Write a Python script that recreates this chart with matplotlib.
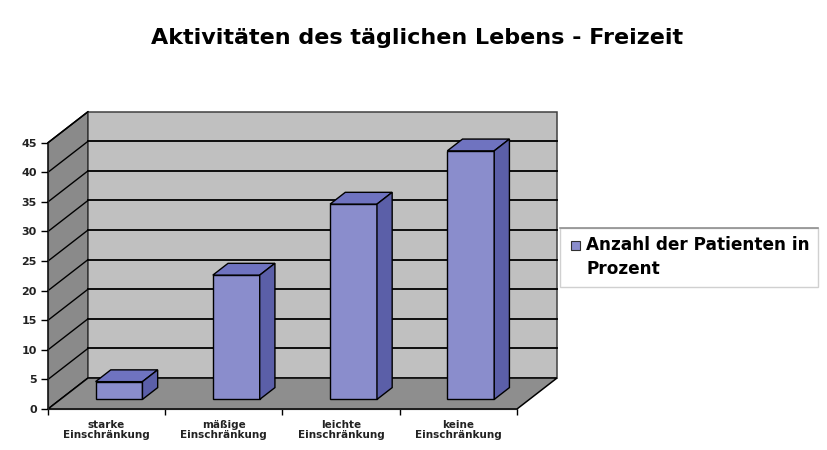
import numpy as np
import matplotlib.pyplot as plt
from matplotlib.patches import Polygon, Rectangle

# data
categories = ['starke\nEinschränkung', 'mäßige\nEinschränkung',
              'leichte\nEinschränkung', 'keine\nEinschränkung']
values = [3, 21, 33, 42]
series_name = 'Anzahl der Patienten in\nProzent'
title = 'Aktivitäten des täglichen Lebens - Freizeit'
yticks = np.arange(0, 50, 5)

W, H = 828, 450
fig = plt.figure(figsize=(W / 100, H / 100), dpi=100)
fig.patch.set_facecolor('white')

# front plane of the 3d box, in pixels
x0, x1 = 48, 517
yb, yt = 409, 142.7
ax = fig.add_axes([x0 / W, (H - yb) / H, (x1 - x0) / W, (yb - yt) / H])
ax.set_xlim(-0.5, 3.5)
ax.set_ylim(0, 45)

# depth offset (40px right, 31px up) in data units
sx = (x1 - x0) / 4.0
sy = (yb - yt) / 45.0
dx = 40 / sx
dy = 31 / sy

wall = '#c0c0c0'
side = '#8a8a8a'
floor = '#8e8e8e'
lw = 1.1

# walls and floor
ax.add_patch(Polygon([(-0.5, 0), (-0.5, 45), (-0.5 + dx, 45 + dy), (-0.5 + dx, dy)],
                     closed=True, fc=side, ec='black', lw=lw, clip_on=False, zorder=1))
ax.add_patch(Polygon([(-0.5 + dx, dy), (-0.5 + dx, 45 + dy), (3.5 + dx, 45 + dy), (3.5 + dx, dy)],
                     closed=True, fc=wall, ec='#404040', lw=lw, clip_on=False, zorder=1))
ax.add_patch(Polygon([(-0.5, 0), (3.5, 0), (3.5 + dx, dy), (-0.5 + dx, dy)],
                     closed=True, fc=floor, ec='black', lw=lw, clip_on=False, zorder=1))

# gridlines on back wall and side wall
for v in yticks[1:]:
    if v < 45:
        ax.plot([-0.5 + dx, 3.5 + dx], [v + dy, v + dy], color='black', lw=1.3,
                clip_on=False, zorder=2)
    ax.plot([-0.5, -0.5 + dx], [v, v + dy], color='black', lw=1.0, clip_on=False, zorder=2)

# bars: front faces with ax.bar, top and side as polygons
f0, fd = 0.31, 0.38
w = 0.4
xs = np.arange(len(values)) + f0 * dx
base = f0 * dy
c_front = '#8a8dcc'
c_top = '#6f73c0'
c_side = '#5b5fa8'
ax.bar(xs, values, width=w, bottom=base, color=c_front, edgecolor='black', lw=1.0,
       zorder=4, clip_on=False)
for x, v in zip(xs, values):
    l, r = x - w / 2, x + w / 2
    t = base + v
    ax.add_patch(Polygon([(l, t), (r, t), (r + fd * dx, t + fd * dy), (l + fd * dx, t + fd * dy)],
                         closed=True, fc=c_top, ec='black', lw=1.0, clip_on=False, zorder=4))
    ax.add_patch(Polygon([(r, base), (r, t), (r + fd * dx, t + fd * dy), (r + fd * dx, base + fd * dy)],
                         closed=True, fc=c_side, ec='black', lw=1.0, clip_on=False, zorder=4))

# axes
ax.set_facecolor('none')
for s in ['top', 'right']:
    ax.spines[s].set_visible(False)
ax.spines['left'].set_color('#202020')
ax.spines['bottom'].set_color('#202020')
ax.spines['left'].set_zorder(5)
ax.spines['bottom'].set_zorder(5)
ax.set_yticks(yticks)
ax.set_yticklabels([str(v) for v in yticks], fontsize=8, fontweight='bold', color='#222222')
ax.tick_params(axis='y', length=5, width=1, pad=3)
ax.set_xticks(range(len(categories)))
ax.set_xticklabels(categories, fontsize=7.5, fontweight='bold', color='#222222',
                   linespacing=1.0)
ax.tick_params(axis='x', which='major', length=0, pad=8)
ax.set_xticks(np.arange(-0.5, 4, 1), minor=True)
ax.tick_params(axis='x', which='minor', length=4, width=1)

fig.text(0.504, 1 - 38 / H, title, ha='center', va='center', fontsize=16, fontweight='bold')

# legend box drawn by hand so the marker sits on the first text line
fig.patches.append(Rectangle((560 / W, 1 - 287 / H), 258 / W, 59 / H, transform=fig.transFigure,
                             fc='white', ec='#d0d0d0', lw=1))
fig.lines.append(plt.Line2D([560 / W, 818 / W], [1 - 228 / H, 1 - 228 / H],
                            transform=fig.transFigure, color='#909090', lw=1.2))
fig.patches.append(Rectangle((571 / W, 1 - 250 / H), 9 / W, 9 / H, transform=fig.transFigure,
                             fc=c_front, ec='#303030', lw=0.8))
fig.text(586 / W, 1 - 236 / H, series_name, ha='left', va='top', fontsize=12.2,
         fontweight='bold', linespacing=1.4)

fig.savefig('out.png', dpi=100)
